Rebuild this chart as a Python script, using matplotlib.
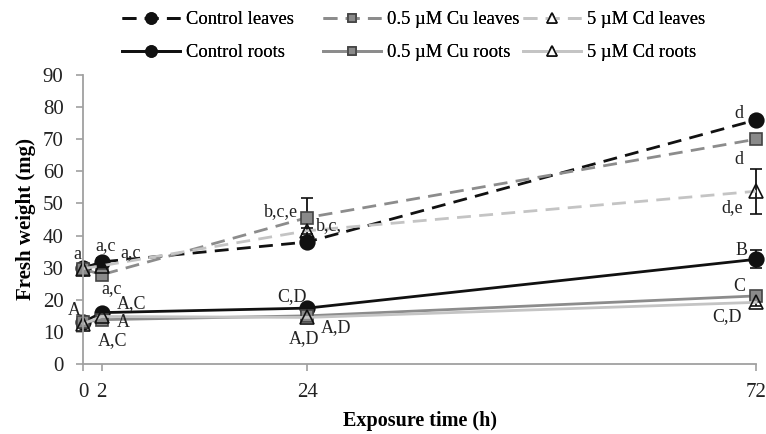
import matplotlib
matplotlib.use("Agg")
from matplotlib import pyplot as plt
from matplotlib.lines import Line2D

plt.rcParams["font.family"] = ["Liberation Serif", "DejaVu Serif"]

# exposure times (h)
hours = [0, 2, 24, 72]

# fresh weight (mg)
control_leaves = [29.8, 31.8, 38.0, 76.0]
cu_leaves = [29.6, 27.8, 45.6, 70.0]
cd_leaves = [29.7, 30.6, 41.5, 53.8]
control_roots = [13.0, 16.0, 17.4, 32.6]
cu_roots = [13.0, 13.8, 15.0, 21.2]
cd_roots = [12.5, 14.8, 14.5, 19.2]

# standard deviations
control_leaves_err = [0.8, 1.2, 1.0, 1.3]
cu_leaves_err = [0.8, 1.0, 6.0, 1.0]
cd_leaves_err = [0.8, 0.8, 1.0, 7.0]
control_roots_err = [0.8, 0.8, 0.8, 2.8]
cu_roots_err = [0.5, 0.5, 0.5, 1.5]
cd_roots_err = [0.5, 0.5, 0.5, 1.0]

# significance letters: (text, x, y, ha)
letters = [
    ("a", -0.6, 34.2, "center"),
    ("a,c", 2.4, 37.0, "center"),
    ("a,c", 4.0, 34.6, "left"),
    ("a,c", 3.1, 23.6, "center"),
    ("A", -0.9, 16.6, "center"),
    ("A,C", 3.6, 18.8, "left"),
    ("A", 3.6, 13.0, "left"),
    ("A,C", 3.2, 7.4, "center"),
    ("b,c,e", 23.0, 47.6, "right"),
    ("b,c,", 24.9, 43.0, "left"),
    ("C,D", 22.4, 21.0, "center"),
    ("A,D", 25.4, 11.2, "left"),
    ("A,D", 23.7, 8.0, "center"),
    ("d", 70.2, 78.0, "center"),
    ("d", 70.2, 63.6, "center"),
    ("d,e", 69.4, 48.6, "center"),
    ("B", 70.4, 35.2, "center"),
    ("C", 70.2, 24.2, "center"),
    ("C,D", 68.9, 14.8, "center"),
]

black = "#111111"
mid_grey = "#8c8c8c"
light_grey = "#c4c4c4"
axis_grey = "#a0a0a0"
dash = (0, (5, 3))

fig = plt.figure(figsize=(7.66, 4.34), dpi=100)
ax = fig.add_axes([0.1084, 0.1613, 0.8786, 0.6659])

# name, values, errors, line colour, style, marker, size, face, edge
series = [
    ("Control leaves", control_leaves, control_leaves_err, black, dash,
     "o", 10.5, black, black),
    ("0.5 \u00b5M Cu leaves", cu_leaves, cu_leaves_err, mid_grey, dash,
     "s", 8.5, "#8a8a8a", "#444444"),
    ("5 \u00b5M Cd leaves", cd_leaves, cd_leaves_err, light_grey, dash,
     "^", 9.5, "none", black),
    ("Control roots", control_roots, control_roots_err, black, "-",
     "o", 10.5, black, black),
    ("0.5 \u00b5M Cu roots", cu_roots, cu_roots_err, mid_grey, "-",
     "s", 8.5, "#8a8a8a", "#444444"),
    ("5 \u00b5M Cd roots", cd_roots, cd_roots_err, light_grey, "-",
     "^", 9.5, "none", black),
]

handles = []
for name, vals, err, col, ls, mk, ms, fc, ec in series:
    eb = ax.errorbar(hours, vals, yerr=err, color=col, linestyle=ls,
                     linewidth=2.0, marker=mk, markersize=ms,
                     markerfacecolor=fc, markeredgecolor=ec,
                     markeredgewidth=1.2, ecolor=black, elinewidth=1.3,
                     capsize=4, capthick=1.3)
    for part in eb.lines[0:1] + eb.lines[1] + eb.lines[2]:
        part.set_clip_on(False)
    handles.append(Line2D([], [], color=col, linestyle=ls, linewidth=2.0,
                          marker=mk, markersize=ms * 0.75,
                          markerfacecolor="white" if fc == "none" else fc,
                          markeredgecolor=ec, markeredgewidth=1.2,
                          label=name))

for text, x, y, ha in letters:
    ax.text(x, y, text, ha=ha, va="center", fontsize=13, color="#222222")

ax.set_xlim(0, 72)
ax.set_ylim(0, 90)
ax.set_xticks(hours)
ax.set_yticks(range(0, 91, 10))
ax.tick_params(axis="both", labelsize=15, color=axis_grey, length=5,
               width=1.2, labelcolor="#222222", pad=9)
for side in ["top", "right"]:
    ax.spines[side].set_visible(False)
for side in ["left", "bottom"]:
    ax.spines[side].set_color(axis_grey)
    ax.spines[side].set_linewidth(1.3)

ax.set_xlabel("Exposure time (h)", fontsize=14.5, fontweight="bold",
              labelpad=6)
ax.set_ylabel("Fresh weight (mg)", fontsize=15, fontweight="bold",
              labelpad=5)

# legend laid out on a fixed grid: three columns, two rows
col_x = [0.1593, 0.4217, 0.6828]
row_y = [0.954, 0.878]
for i, h in enumerate(handles):
    leg = fig.legend(handles=[h], loc="center left",
                     bbox_to_anchor=(col_x[i % 3], row_y[i // 3]),
                     frameon=False, fontsize=13.3, handlelength=3.15,
                     handletextpad=0.3, borderpad=0, borderaxespad=0)
    fig.add_artist(leg)

fig.savefig("out.png", dpi=100)
